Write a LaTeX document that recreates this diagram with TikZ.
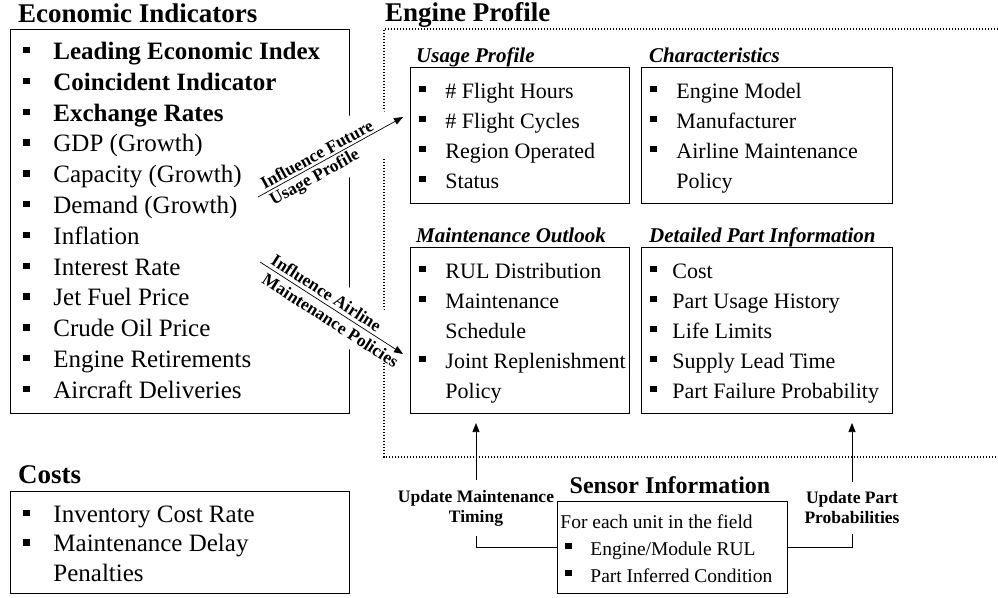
\documentclass[tikz,border=0pt]{standalone}
\usepackage{fontspec}
\setmainfont{Liberation Serif}
\usetikzlibrary{arrows.meta}
\newlength\tind
\newlength\bind
\newcommand\bul{\rule[6pt]{6.5pt}{6.5pt}}
\newcommand\itm[1]{\par\noindent\hangindent=\tind\hangafter=1\hbox to \tind{\hskip\bind\bul\hfil}\ignorespaces#1}
\newcommand\fs[2]{\fontsize{#1pt}{#2pt}\selectfont}
\begin{document}
\begin{tikzpicture}[x=1pt,y=-1pt,
  box/.style={draw, line width=0.9pt, inner sep=0pt, anchor=north west},
  ttl/.style={font=\bfseries\fs{27}{30}, anchor=base west, inner sep=0pt},
  sub/.style={font=\bfseries\itshape\fs{21}{26}, anchor=base west, inner sep=0pt},
  lab/.style={font=\bfseries\fs{17.5}{20}, inner sep=0pt},
  upd/.style={font=\bfseries\fs{17.5}{20}, align=center, fill=white, inner xsep=0pt, inner ysep=10pt},
  arr/.style={-{Triangle[length=9pt,width=7pt]}, line width=0.7pt},
  dots/.style={line width=1.3pt, dash pattern=on 1.3pt off 1.7pt},
  wbox/.style={fill=white, inner sep=0pt}
]
\useasboundingbox (0,0) rectangle (998,597);

% Titles
\node[ttl] (tEco) at (18,23) {Economic Indicators};
\node[ttl] (tEng) at (385,21) {Engine Profile};
\node[ttl] (tCost) at (18,483) {Costs};
\node[sub] (tUse) at (416,62) {Usage Profile};
\node[sub] (tChar) at (649,62) {Characteristics};
\node[sub] (tMaint) at (416,242) {Maintenance Outlook};
\node[sub] (tDet) at (649,242) {Detailed Part Information};
\node[font=\bfseries\fs{24}{26}, anchor=base, inner sep=0pt] (tSens) at (670,493) {Sensor Information};

% Engine profile dotted frame
\draw[dots] (998,29) -- (384,29) -- (384,457) -- (998,457);

% Economic indicators
\node[box] (eco) at (10,29) {\parbox[t][384pt][t]{339pt}{%
  \setlength\bind{13pt}\setlength\tind{43pt}\fs{25}{30.8}%
  \itm{\rule{0pt}{30pt}\textbf{Leading Economic Index}}
  \itm{\textbf{Coincident Indicator}}
  \itm{\textbf{Exchange Rates}}
  \itm{GDP (Growth)}
  \itm{Capacity (Growth)}
  \itm{Demand (Growth)}
  \itm{Inflation}
  \itm{Interest Rate}
  \itm{Jet Fuel Price}
  \itm{Crude Oil Price}
  \itm{Engine Retirements}
  \itm{Aircraft Deliveries}\par}};

% Costs
\node[box] (cost) at (10,491) {\parbox[t][102pt][t]{339pt}{%
  \setlength\bind{13pt}\setlength\tind{43pt}\fs{25}{29.5}%
  \itm{\rule{0pt}{31pt}Inventory Cost Rate}
  \itm{Maintenance Delay\newline Penalties}\par}};

% Usage profile
\node[box] (use) at (410,67) {\parbox[t][136pt][t]{219pt}{%
  \setlength\bind{9pt}\setlength\tind{35pt}\fs{22}{30}%
  \itm{\rule{0pt}{31pt}\# Flight Hours}
  \itm{\# Flight Cycles}
  \itm{Region Operated}
  \itm{Status}\par}};

% Characteristics
\node[box] (char) at (641,67) {\parbox[t][136pt][t]{251pt}{%
  \setlength\bind{9pt}\setlength\tind{35pt}\fs{22}{30}%
  \itm{\rule{0pt}{31pt}Engine Model}
  \itm{Manufacturer}
  \itm{Airline Maintenance\newline Policy}\par}};

% Maintenance outlook
\node[box] (maint) at (410,247) {\parbox[t][166pt][t]{219pt}{%
  \setlength\bind{9pt}\setlength\tind{35pt}\fs{22}{30}%
  \itm{\rule{0pt}{31pt}RUL Distribution}
  \itm{Maintenance\newline Schedule}
  \itm{Joint Replenishment\newline Policy}\par}};

% Detailed part information
\node[box] (det) at (641,247) {\parbox[t][166pt][t]{251pt}{%
  \setlength\bind{9pt}\setlength\tind{31pt}\fs{22}{30}%
  \itm{\rule{0pt}{31pt}Cost}
  \itm{Part Usage History}
  \itm{Life Limits}
  \itm{Supply Lead Time}
  \itm{Part Failure Probability}\par}};

% Sensor information
\node[box] (sens) at (557,501) {\parbox[t][92pt][t]{230pt}{%
  \setlength\bind{8pt}\setlength\tind{33pt}\fs{19.5}{27}%
  \noindent\hspace*{3pt}\rule{0pt}{27pt}For each unit in the field
  \itm{Engine/Module RUL}
  \itm{Part Inferred Condition}\par}};

% Influence arrows
\coordinate (a1s) at (258,197);
\coordinate (a1e) at (403,117);
\coordinate (a2s) at (260,262);
\coordinate (a2e) at (403,354);
\node[wbox, rotate=28.88, minimum width=147pt, minimum height=54pt] (w1) at (326.7,159.1) {};
\node[wbox, rotate=-32.75, minimum width=158pt, minimum height=52pt] (w2) at (326.9,303.9) {};
\draw[arr] (a1s) -- (a1e);
\draw[arr] (a2s) -- (a2e);
\node[lab, rotate=28.88] (l1a) at (316.7,154.3) {Influence Future};
\node[lab, rotate=28.88] (l1b) at (315.0,178.1) {Usage Profile};
\node[lab, rotate=-32.75] (l2a) at (326.4,292.8) {Influence Airline};
\node[lab, rotate=-32.75] (l2b) at (330.6,320.5) {Maintenance Policies};

% Update arrows
\coordinate (t1) at (476,423);
\coordinate (t2) at (852,423);
\draw[arr] (sens.west) -| (t1);
\draw[arr] (sens.east) -| (t2);
\node[upd] (u1) at (476,508) {Update Maintenance\\Timing};
\node[upd] (u2) at (852,508) {Update Part\\Probabilities};
\end{tikzpicture}
\end{document}
